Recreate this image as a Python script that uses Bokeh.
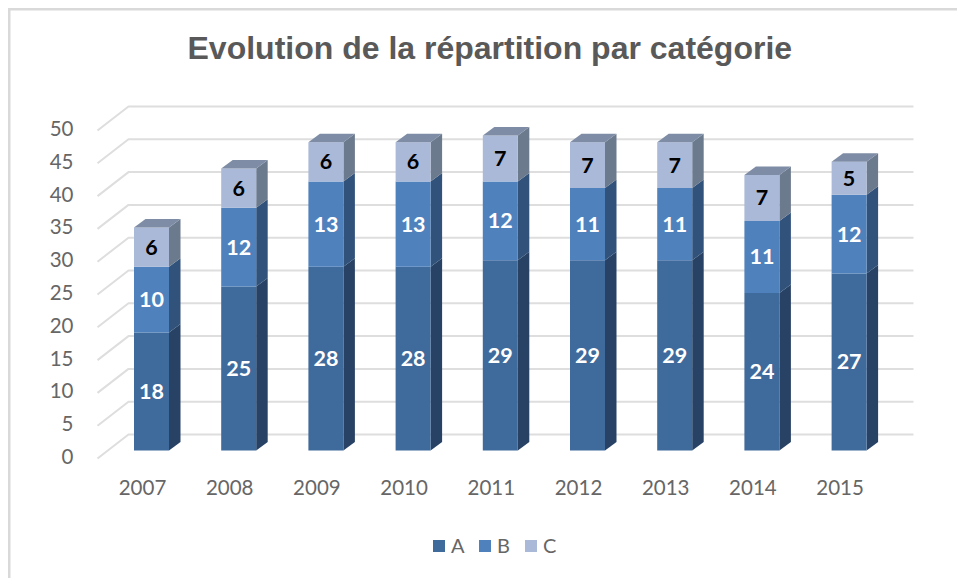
from bokeh.plotting import figure
from bokeh.models import LinearAxis, Range1d, FixedTicker, Legend, LegendItem, Title
from bokeh.core.properties import value
from bokeh.embed import file_html
from bokeh.resources import INLINE

years = ["2007", "2008", "2009", "2010", "2011", "2012", "2013", "2014", "2015"]
series_a = [18, 25, 28, 28, 29, 29, 29, 24, 27]
series_b = [10, 12, 13, 13, 12, 11, 11, 11, 12]
series_c = [6, 6, 6, 6, 7, 7, 7, 7, 5]
y_ticks = [0, 5, 10, 15, 20, 25, 30, 35, 40, 45, 50]
names = ["A", "B", "C"]

front = ["#3F6A9C", "#4F81BD", "#AAB9D8"]
side = ["#274264", "#30527B", "#6C7A8E"]
top_col = "#7E8CA6"
text_col = ["white", "white", "black"]
GREY = "#666666"
FONT = "Lato"

X_UNIT, Y_UNIT = 87.2, 6.56
BAR_W = 35 / X_UNIT
DX, DY = 11.5 / X_UNIT, 8.5 / Y_UNIT
WALL_DX, WALL_BACK, WALL_FRONT = 31 / X_UNIT, 16 / Y_UNIT, -8 / Y_UNIT
WALL_X0 = (97 - 151) / X_UNIT
WALL_X1 = (913 - 151) / X_UNIT
YEAR_DX, YEAR_Y = -9 / X_UNIT, -37 / Y_UNIT

W, H = 957, 578
FR_L, FR_T, FR_R, FR_B = 85, 72, 949, 578
x0 = (FR_L - 151) / X_UNIT
x1 = (FR_R - 151) / X_UNIT
y0 = -(FR_B - 450) / Y_UNIT
y1 = (450 - FR_T) / Y_UNIT

p = figure(width=W, height=H, output_backend="svg", toolbar_location=None,
           frame_width=FR_R - FR_L, frame_height=FR_B - FR_T,
           min_border_left=FR_L, min_border_right=W - FR_R, min_border_top=FR_T,
           min_border_bottom=0,
           x_range=Range1d(x0, x1), y_range=Range1d(y0, y1),
           x_axis_type=None, y_axis_type=None, outline_line_color=None,
           background_fill_color=None, border_fill_color=None,
           styles={
               "background-image": "linear-gradient(#D9D9D9,#D9D9D9),linear-gradient(#D9D9D9,#D9D9D9)",
               "background-size": "2.5px 100%,100% 2.5px",
               "background-position": "7.5px 7.5px,7.5px 7.5px",
               "background-repeat": "no-repeat",
           })
p.grid.visible = False

# floor-and-wall grid lines
wall_xs, wall_ys = [], []
for t in y_ticks:
    wall_xs.append([WALL_X0, WALL_X0 + WALL_DX, WALL_X1])
    wall_ys.append([t + WALL_FRONT, t + WALL_BACK, t + WALL_BACK])
p.multi_line(wall_xs, wall_ys, line_color="#DEDEDE", line_width=2)

# bars with pseudo 3D faces
idx = list(range(len(years)))
bottoms = [0] * len(years)
legend_items = []
for k, vals in enumerate([series_a, series_b, series_c]):
    tops = [b + v for b, v in zip(bottoms, vals)]
    sx, sy = [], []
    for i in idx:
        r = i + BAR_W / 2
        sx.append([r, r + DX, r + DX, r])
        sy.append([bottoms[i], bottoms[i] + DY, tops[i] + DY, tops[i]])
    p.patches(sx, sy, fill_color=side[k], line_color=None)
    bars = p.vbar(x=idx, width=BAR_W, bottom=bottoms, top=tops,
                  fill_color=front[k], line_color=None)
    legend_items.append(LegendItem(label=names[k], renderers=[bars]))
    if k == 2:
        tx, ty = [], []
        for i in idx:
            l, r = i - BAR_W / 2, i + BAR_W / 2
            tx.append([l, r, r + DX, l + DX])
            ty.append([tops[i], tops[i], tops[i] + DY, tops[i] + DY])
        p.patches(tx, ty, fill_color=top_col, line_color=None)
    p.text(x=idx, y=[b + v / 2 for b, v in zip(bottoms, vals)],
           text=[str(v) for v in vals], text_color=text_col[k],
           text_font=value(FONT), text_font_style="bold", text_font_size="21.5px",
           text_align="center", text_baseline="middle")
    bottoms = tops

# category labels, in front of the floor and shifted from the bars
p.text(x=[i + YEAR_DX for i in idx], y=[YEAR_Y] * len(idx), text=years,
       text_color=GREY, text_font=value(FONT), text_font_size="20.5px",
       text_align="center", text_baseline="middle")

# value axis: labels sit in front of the wall
p.extra_y_ranges["labels"] = Range1d(-(FR_B - 456) / Y_UNIT, (456 - FR_T) / Y_UNIT)

yax = LinearAxis(y_range_name="labels", ticker=FixedTicker(ticks=y_ticks))
yax.axis_line_color = None
yax.major_tick_line_color = None
yax.minor_tick_line_color = None
yax.major_label_standoff = 6
yax.major_label_text_font = FONT
yax.major_label_text_font_size = "20.5px"
yax.major_label_text_color = GREY
p.add_layout(yax, "left")

legend = Legend(items=legend_items, orientation="horizontal",
                location=(346, 21), margin=0, padding=0, spacing=6,
                glyph_width=15, glyph_height=15, label_standoff=5,
                label_text_font=FONT, label_text_font_size="20px",
                label_text_color=GREY, border_line_color=None,
                background_fill_alpha=0)
p.add_layout(legend, "center")

title = Title(text="Evolution de la répartition par catégorie", align="left",
              offset=102, standoff=13, text_font="Liberation Sans",
              text_font_size="32px", text_font_style="bold", text_color="#595959")
p.add_layout(title, "above")

open("out.html", "w").write(file_html(p, INLINE))
